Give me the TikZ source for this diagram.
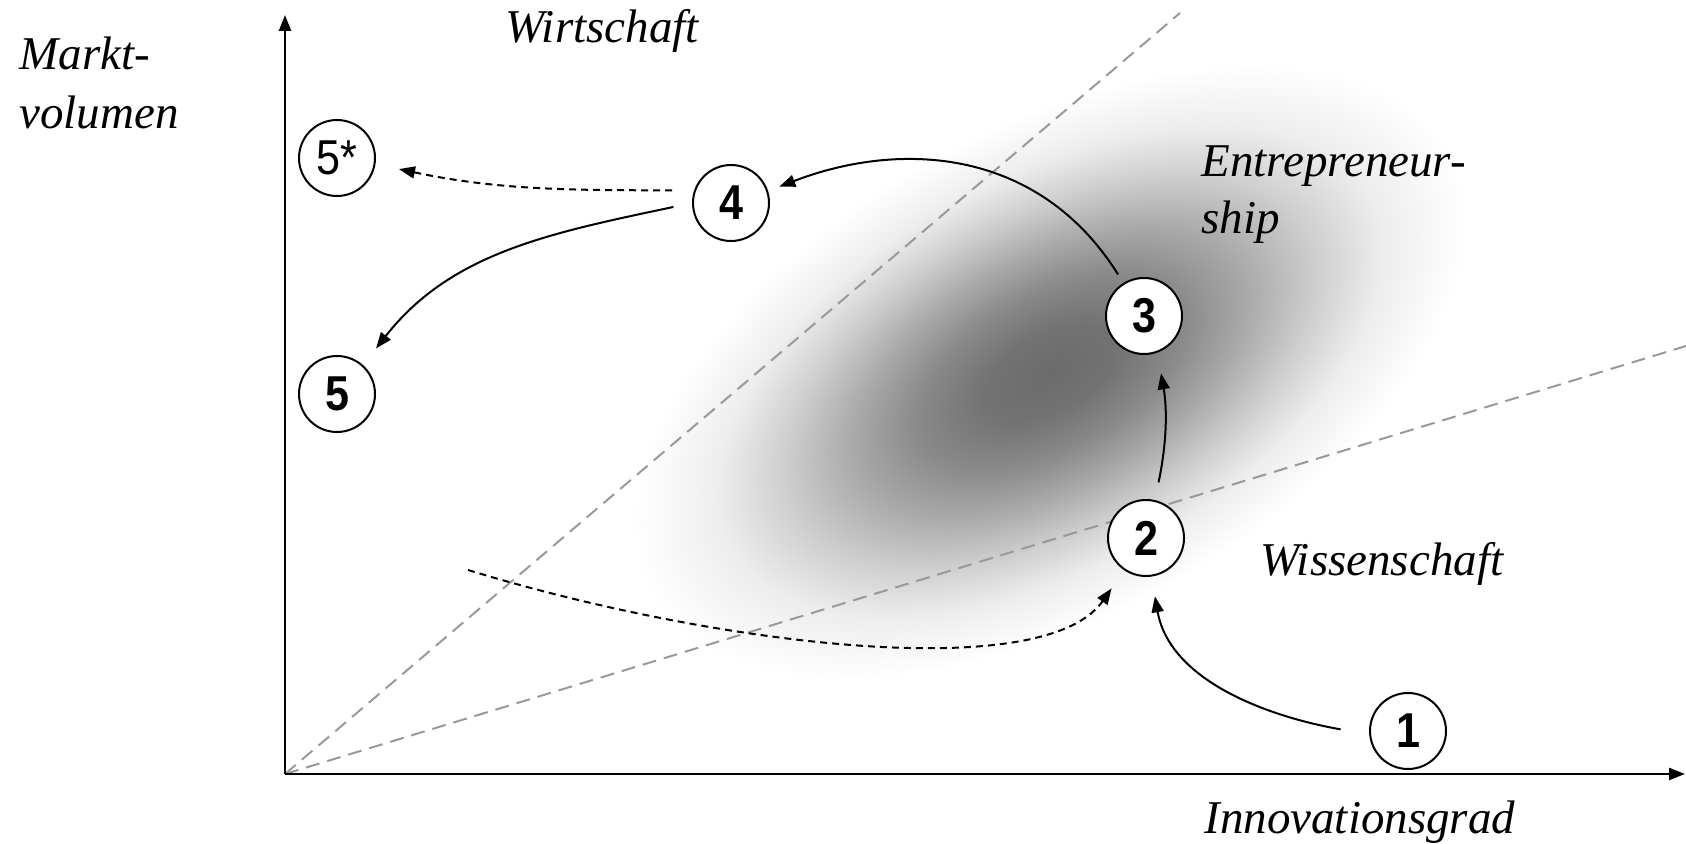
\documentclass[tikz,border=0pt]{standalone}
\usepackage{fontspec}
\setmainfont{Liberation Serif}
\newfontfamily\digfont[FakeStretch=0.88]{Liberation Sans}
\usetikzlibrary{arrows.meta}

% soft grey cloud of the entrepreneurship zone
\pgfdeclareradialshading{blob}{\pgfpoint{0bp}{0bp}}{%
  color(0bp)=(black!58); color(4bp)=(black!55); color(8bp)=(black!46);
  color(12bp)=(black!33); color(16bp)=(black!19); color(20bp)=(black!7);
  color(25bp)=(white); color(50bp)=(white)}

\begin{document}
\begin{tikzpicture}[x=0.5pt, y=-0.5pt,
  lab/.style={font=\fontsize{23.5}{29.5}\selectfont\itshape, inner sep=0pt},
  circ/.style={circle, draw, line width=1pt, fill=white, minimum size=38pt,
    inner sep=0pt, font=\digfont\fontsize{24.5}{24.5}\selectfont\bfseries},
  arr/.style={line width=1pt, -{Triangle[length=8pt, width=6pt]}},
  darr/.style={arr, dash pattern=on 3.5pt off 2.5pt},
  guide/.style={black!40, line width=1pt, dash pattern=on 7pt off 4pt},
  axis/.style={line width=1.2pt, -{Triangle[length=8pt, width=6pt]}}]

\useasboundingbox (0,0) rectangle (1686,844);

% shaded zone
\begin{scope}[transform canvas={shift={(1050,372)}, rotate=29}]
  \shade[shading=blob] (0,0) ellipse [x radius=228pt, y radius=122pt];
\end{scope}

% guide rays from the origin
\coordinate (O) at (285,774);
\coordinate (g1) at (1180,13);
\coordinate (g2) at (1686,346);
\draw[guide] (O) -- (g1);
\draw[guide] (O) -- (g2);

% axes
\coordinate (ytop) at (285,15);
\coordinate (xend) at (1685,774);
\draw[axis] (O) -- (ytop);
\draw[axis] (O) -- (xend);

% stages
\node[circ] (n1) at (1408,731) {1};
\node[circ] (n2) at (1146,538) {2};
\node[circ] (n3) at (1144,316) {3};
\node[circ] (n4) at (731,203) {4};
\node[circ] (n5) at (337,394) {5};
\node[circ, font=\digfont\fontsize{24.5}{24.5}\selectfont] (n5s) at (337,158) {5*};

% transitions
\draw[arr, shorten <=14.5pt, shorten >=10pt] (n1.185) to[out=170, in=-80] (n2.-82);
\draw[arr, shorten <=9pt, shorten >=10.5pt] (n2.77) to[out=78, in=-80] (n3.-70);
\draw[arr, shorten <=5pt, shorten >=6pt] (n3.122)
  to[out=122, in=21, out looseness=1.1, in looseness=1] (n4.18);
\draw[arr, shorten <=9.5pt, shorten >=10.5pt] (n4.180) to[out=192, in=52] (n5.48);
\draw[darr, shorten <=11pt, shorten >=12pt] (n4.161) to[out=180, in=-12] (n5s.-9);
\coordinate (d0) at (468,570);
\draw[darr, shorten >=11pt] (d0) to[out=-17, in=-125, in looseness=0.55] (n2.-124);

% labels
\node[lab, anchor=base west] (mk1) at (19,70) {Markt-};
\node[lab, anchor=base west] (mk2) at (19,129) {volumen};
\node[lab, anchor=base] (wi) at (602,43) {Wirtschaft};
\node[lab, anchor=base west] (en1) at (1201,177) {Entrepreneur-};
\node[lab, anchor=base west] (en2) at (1201,234) {ship};
\node[lab, anchor=base west] (ws) at (1260,575) {Wissenschaft};
\node[lab, anchor=base west] (ig) at (1204,833) {Innovationsgrad};
\end{tikzpicture}
\end{document}
